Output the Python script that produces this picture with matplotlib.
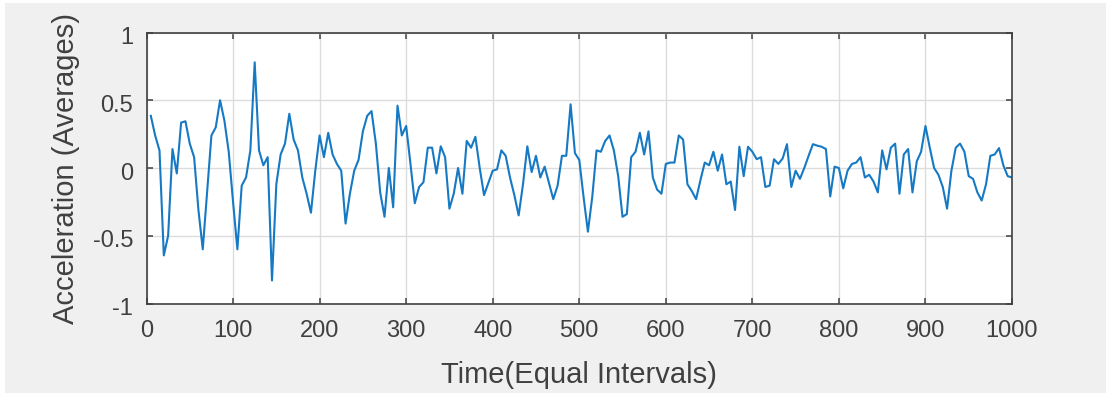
import matplotlib
matplotlib.use("Agg")
import matplotlib.pyplot as plt
from matplotlib.patches import Rectangle
from matplotlib.transforms import ScaledTranslation

# Averaged acceleration samples, one every 5 time units
time = list(range(5, 1001, 5))
accel = [
    0.385, 0.24, 0.13, -0.645, -0.50, 0.14, -0.04, 0.335, 0.345, 0.18,
    0.08, -0.31, -0.60, -0.18, 0.24, 0.30, 0.50, 0.35, 0.12, -0.25,
    -0.60, -0.13, -0.07, 0.13, 0.78, 0.13, 0.02, 0.08, -0.83, -0.12,
    0.10, 0.18, 0.40, 0.21, 0.13, -0.07, -0.19, -0.33, -0.02, 0.24,
    0.08, 0.26, 0.10, 0.03, -0.02, -0.41, -0.19, -0.02, 0.06, 0.27,
    0.385, 0.42, 0.18, -0.18, -0.36, 0.0, -0.29, 0.46, 0.24, 0.31,
    0.03, -0.26, -0.14, -0.105, 0.15, 0.15, -0.04, 0.16, 0.08, -0.30,
    -0.19, 0.0, -0.19, 0.20, 0.15, 0.23, 0.0, -0.20, -0.11, -0.02,
    -0.01, 0.13, 0.09, -0.07, -0.20, -0.35, -0.12, 0.16, -0.03, 0.09,
    -0.07, 0.01, -0.11, -0.23, -0.13, 0.09, 0.09, 0.47, 0.11, 0.06,
    -0.215, -0.47, -0.215, 0.13, 0.12, 0.20, 0.24, 0.13, -0.06, -0.36,
    -0.34, 0.08, 0.12, 0.26, 0.10, 0.27, -0.07, -0.16, -0.19, 0.03,
    0.04, 0.04, 0.24, 0.21, -0.12, -0.17, -0.23, -0.09, 0.04, 0.02,
    0.12, -0.02, 0.10, -0.12, -0.10, -0.31, 0.157, -0.06, 0.157, 0.12,
    0.065, 0.08, -0.14, -0.13, 0.065, 0.03, 0.07, 0.176, -0.14, -0.02,
    -0.08, 0.0, 0.09, 0.176, 0.165, 0.157, 0.14, -0.21, 0.01, 0.0,
    -0.15, -0.02, 0.03, 0.04, 0.08, -0.07, -0.05, -0.10, -0.18, 0.13,
    -0.01, 0.15, 0.18, -0.19, 0.10, 0.14, -0.18, 0.05, 0.12, 0.31,
    0.15, 0.0, -0.05, -0.14, -0.30, -0.02, 0.15, 0.18, 0.12, -0.06,
    -0.08, -0.18, -0.24, -0.12, 0.09, 0.10, 0.147, 0.02, -0.06, -0.07,
]

x_ticks = list(range(0, 1001, 100))
y_ticks = [-1, -0.5, 0, 0.5, 1]
y_tick_labels = ["-1", "-0.5", "0", "0.5", "1"]

plt.rcParams["font.family"] = ["Liberation Sans", "DejaVu Sans"]
plt.rcParams["axes.unicode_minus"] = False

W, H = 1106, 394
fig = plt.figure(figsize=(W / 100, H / 100), dpi=100, facecolor="white")
fig.patches.append(Rectangle((5 / W, 1 / H), 1 - 5 / W, (H - 4) / H,
                             transform=fig.transFigure, facecolor="#f0f0f0",
                             edgecolor="none", zorder=-10))

ax = fig.add_axes([146.5 / W, (H - 303.5) / H, 865.5 / W, 271 / H])
ax.set_facecolor("white")
ax.plot(time, accel, color="#1579c4", lw=1.5)

ax.set_xlim(0, 1000)
ax.set_ylim(-1, 1)
ax.set_xticks(x_ticks)
ax.set_yticks(y_ticks)
ax.set_yticklabels(y_tick_labels)

ax.grid(True, color="#dcdcdc", lw=1.0)
ax.set_axisbelow(True)
for s in ax.spines.values():
    s.set_color("#404040")
    s.set_linewidth(1.2)

ax.tick_params(axis="both", direction="in", length=4, width=1.1,
               color="#404040", labelcolor="#404040", labelsize=17,
               top=True, right=True)
ax.tick_params(axis="x", pad=12)
ax.tick_params(axis="y", pad=9.5)

# y tick labels sit a few pixels below their ticks
shift = ScaledTranslation(0, -3 / 100, fig.dpi_scale_trans)
for lbl in ax.get_yticklabels():
    lbl.set_transform(lbl.get_transform() + shift)

ax.set_xlabel("Time(Equal Intervals)", fontsize=21, color="#404040", va="baseline")
ax.xaxis.set_label_coords(0.5, (303.5 - 383) / 271)
ax.set_ylabel("Acceleration (Averages)", fontsize=21, color="#404040", va="center")
ax.yaxis.set_label_coords((66 - 146.5) / 865.5, 0.5)

fig.savefig("out.png", dpi=100, facecolor=fig.get_facecolor())
